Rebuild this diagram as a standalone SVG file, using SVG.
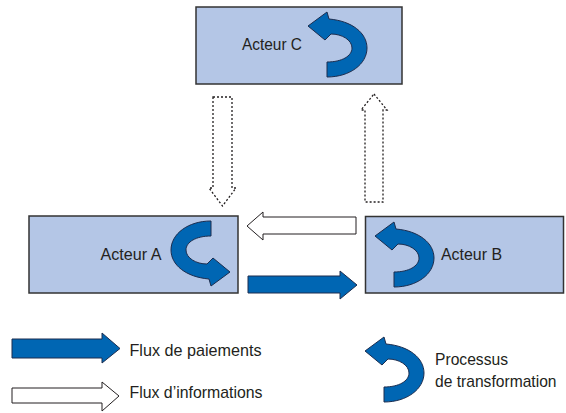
<svg xmlns="http://www.w3.org/2000/svg" width="566" height="413" viewBox="0 0 566 413">
<defs>
<style>
.box{fill:#B4C6E6;stroke:#333;stroke-width:1.5}
.lbl{font-family:"Liberation Sans",Arial,sans-serif;font-size:17px;fill:#231f20}
.pay{fill:#0066B3;stroke:#1c2d4f;stroke-width:1}
.info{fill:#fff;stroke:#231f20;stroke-width:1}
.dot{fill:#fff;stroke:#231f20;stroke-width:1.3;stroke-dasharray:2 2}
</style>
<path id="proc" d="M308,26 L327,12 L329,19 C352,21 367,33 367,48 C367,64 350,77 327,77 L327,62 C342,62 352,56 352,48 C352,40 342,34 331,34 L325,40 Z"/>
</defs>
<rect width="566" height="413" fill="#fff"/>
<g id="acteur-c">
<rect class="box" x="196" y="7" width="206" height="77"/>
<use href="#proc" class="pay"/>
<text class="lbl" x="242" y="49.5" textLength="60" lengthAdjust="spacingAndGlyphs">Acteur C</text>
</g>
<g id="acteur-a">
<rect class="box" x="29" y="216" width="209" height="77"/>
<use href="#proc" class="pay" transform="matrix(-1,0,0,-1,538,298)"/>
<text class="lbl" x="100.5" y="260" textLength="61" lengthAdjust="spacingAndGlyphs">Acteur A</text>
</g>
<g id="acteur-b">
<rect class="box" x="365.5" y="216.5" width="198" height="76.5"/>
<use href="#proc" class="pay" transform="translate(67,210)"/>
<text class="lbl" x="441" y="260" textLength="61" lengthAdjust="spacingAndGlyphs">Acteur B</text>
</g>
<g id="connectors">
<polygon class="dot" points="213,97 232,97 232,188 236,188 222.5,206 209,188 213,188"/>
<polygon class="dot" points="374,94 387,110 383,110 383,202 365,202 365,110 361,110"/>
<polygon class="info" points="356,217 356,234 263,234 263,240 247,226 263,212 263,217"/>
<polygon class="pay" points="248,276 340,276 340,271 357,285 340,299 340,293 248,293"/>
</g>
<g id="legend">
<polygon class="pay" points="12,339 102,339 102,333 120,348.5 102,363 102,358 12,358"/>
<text class="lbl" x="129.5" y="355.5" textLength="132" lengthAdjust="spacingAndGlyphs">Flux de paiements</text>
<polygon class="info" points="12,388 102,388 102,382 119,396 102,411 102,403 12,403"/>
<text class="lbl" x="129.5" y="398" textLength="133" lengthAdjust="spacingAndGlyphs">Flux d’informations</text>
<use href="#proc" class="pay" transform="translate(57,325)"/>
<text class="lbl" x="435" y="365" textLength="73" lengthAdjust="spacingAndGlyphs">Processus</text>
<text class="lbl" x="435" y="387" textLength="121.5" lengthAdjust="spacingAndGlyphs">de transformation</text>
</g>
</svg>
